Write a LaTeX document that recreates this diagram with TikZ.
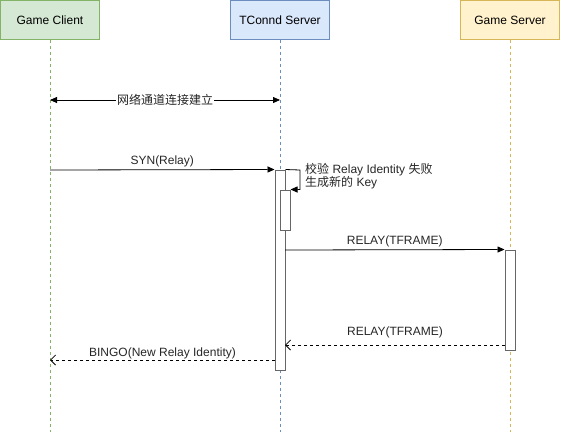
\documentclass[tikz,border=0pt]{standalone}
\usepackage{fontspec}
\setmainfont{Liberation Sans}
\newfontfamily\cjk{Noto Sans CJK SC}
\usetikzlibrary{arrows.meta}
\definecolor{gcfill}{HTML}{D5E8D4}
\definecolor{gcline}{HTML}{82B366}
\definecolor{tcfill}{HTML}{DAE8FC}
\definecolor{tcline}{HTML}{6C8EBF}
\definecolor{gsfill}{HTML}{FFF2CC}
\definecolor{gsline}{HTML}{D6B656}
\definecolor{barline}{HTML}{666666}
\tikzset{
  actorbox/.style={draw, line width=1pt, minimum width=99pt, minimum height=39pt, inner sep=0pt},
  lifeline/.style={line width=0.8pt, dash pattern=on 3pt off 3pt},
  actbar/.style={draw=barline, fill=white, line width=1pt, minimum width=10pt, inner sep=0pt},
  solidmsg/.style={draw=black, line width=0.8pt, -{Triangle[length=7pt,width=6pt]}},
  bothmsg/.style={draw=black, line width=0.8pt, {Triangle[length=7pt,width=6pt]}-{Triangle[length=7pt,width=6pt]}},
  dashmsg/.style={draw=black, line width=0.8pt, dash pattern=on 3pt off 3pt, -{Straight Barb[length=5pt,width=10pt]}},
  msglabel/.style={inner sep=1pt, text=black!85},
}
\begin{document}
\begin{tikzpicture}[x=1pt,y=-1pt,font=\fontsize{12}{13.5}\selectfont]
\useasboundingbox (0,0) rectangle (561,432);
% actors
\node[actorbox, fill=gcfill, draw=gcline] (gc) at (50,20) {Game Client};
\node[actorbox, fill=tcfill, draw=tcline] (tc) at (280,20) {TConnd Server};
\node[actorbox, fill=gsfill, draw=gsline] (gs) at (510,20) {Game Server};
\coordinate (gcend) at (50,432);
\coordinate (tcend) at (280,432);
\coordinate (gsend) at (510,432);
\draw[lifeline, gcline] (gc.south) -- (gcend);
\draw[lifeline, tcline] (tc.south) -- (tcend);
\draw[lifeline, gsline] (gs.south) -- (gsend);
% activation bars
\node[actbar, minimum height=200pt] (a1) at (280,270) {};
\node[actbar, minimum height=40pt] (a2) at (285,210) {};
\node[actbar, minimum height=100pt] (a3) at (510,300) {};
% connection established
\coordinate (c1) at (50,100);
\coordinate (c2) at (280,100);
\draw[bothmsg] (c1) -- node[fill=white, inner sep=1pt, text=black!85] {\cjk 网络通道连接建立} (c2);
% SYN
\coordinate (s1) at (50,170);
\draw[solidmsg] (s1) -- node[msglabel, above=1pt] {SYN(Relay)} (a1.north west);
% self message
\coordinate (selfc) at (300,170);
\draw[solidmsg] (a1.north east) -- (selfc) |- (a2.north east);
\node[msglabel, anchor=north west, align=left, inner sep=0pt] (selflbl) at (305,163)
  {{\cjk 校验} Relay Identity {\cjk 失败}\\{\cjk 生成新的} Key};
% RELAY to game server
\coordinate (r1) at (285,250);
\draw[solidmsg] (r1) -- node[msglabel, above=1pt] {RELAY(TFRAME)} (a3.north west);
% return
\coordinate (r2) at (505,345);
\coordinate (r3) at (285,345);
\draw[dashmsg] (r2) -- node[msglabel, above=6pt] {RELAY(TFRAME)} (r3);
% BINGO
\coordinate (b1) at (275,360);
\coordinate (b2) at (50,360);
\draw[dashmsg] (b1) -- node[msglabel, above=0pt] {BINGO(New Relay Identity)} (b2);
\end{tikzpicture}
\end{document}
